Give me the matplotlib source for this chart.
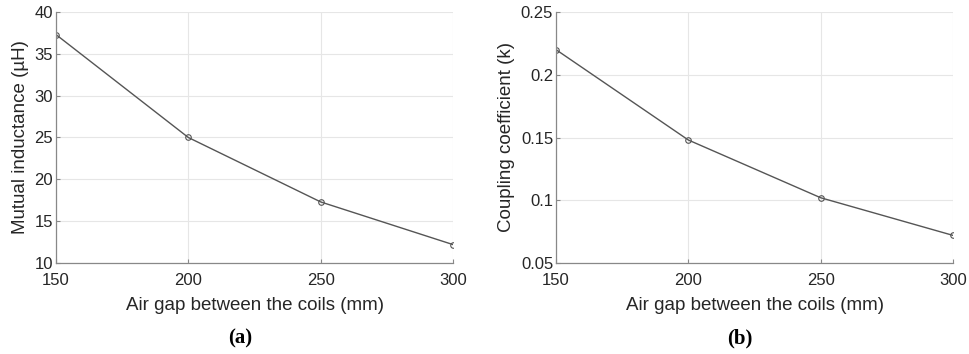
import numpy as np
import matplotlib.pyplot as plt

# data
gap = [150, 200, 250, 300]
mutual = [37.3, 25.0, 17.3, 12.2]
coupling = [0.220, 0.148, 0.102, 0.072]

plt.rcParams['font.family'] = ['Liberation Sans', 'DejaVu Sans']

fig = plt.figure(figsize=(9.69, 3.54), dpi=100)
ax1 = fig.add_axes([56/969, 1-263/354, 397/969, 251/354])
ax2 = fig.add_axes([556/969, 1-263/354, 397/969, 251/354])

def style(ax):
    for s in ["top", "right"]:
        ax.spines[s].set_visible(False)
    for s in ["left", "bottom"]:
        ax.spines[s].set_color("#888888")
        ax.spines[s].set_linewidth(0.9)
    ax.grid(True, color="#e6e6e6", linewidth=0.8)
    ax.set_axisbelow(True)
    ax.tick_params(direction="in", length=3, color="#888888", labelsize=12,
                   labelcolor="#262626")
    ax.tick_params(axis="y", pad=2)
    ax.tick_params(axis="x", pad=7.5)
    ax.set_xlim(150, 300)
    ax.set_xticks([150, 200, 250, 300])
    ax.set_xlabel("Air gap between the coils (mm)", fontsize=13.5, color="#262626", labelpad=6)

ax1.plot(gap, mutual, color="#555555", lw=1.0, marker="o", ms=4, mfc="none", mew=0.8)
style(ax1)
ax1.set_ylim(10, 40)
ax1.set_yticks([10, 15, 20, 25, 30, 35, 40])
ax1.set_ylabel("Mutual inductance (\u00b5H)", fontsize=13.5, color="#262626", labelpad=4)

ax2.plot(gap, coupling, color="#555555", lw=1.0, marker="o", ms=4, mfc="none", mew=0.8)
style(ax2)
ax2.set_ylim(0.05, 0.25)
ax2.set_yticks([0.05, 0.1, 0.15, 0.2, 0.25])
ax2.set_yticklabels(["0.05", "0.1", "0.15", "0.2", "0.25"])
ax2.set_ylabel("Coupling coefficient (k)", fontsize=13.5, color="#262626", labelpad=4)

fig.text(240/969, 1-338/354, "(a)", ha="center", va="center", fontsize=15,
         fontweight="bold", family="Liberation Serif")
fig.text(740/969, 1-338/354, "(b)", ha="center", va="center", fontsize=15,
         fontweight="bold", family="Liberation Serif")

fig.savefig("out.png", dpi=100)
